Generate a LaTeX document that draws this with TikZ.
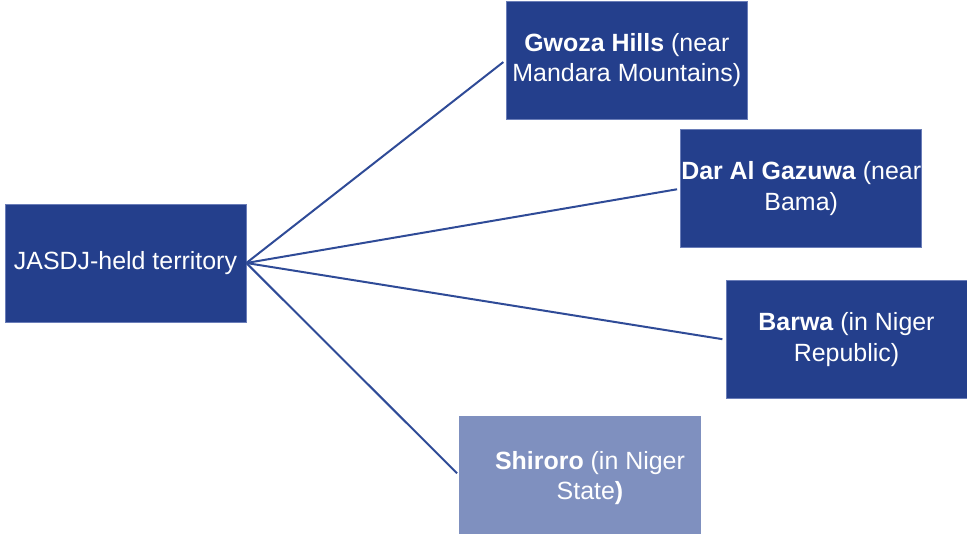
\documentclass[tikz,border=0pt]{standalone}
\usepackage{fontspec}
\setmainfont{Liberation Sans}
\definecolor{boxblue}{HTML}{243F8C}
\definecolor{boxedge}{HTML}{6A7DB8}
\definecolor{lightblue}{HTML}{7F90BF}
\definecolor{linkblue}{HTML}{2F4B97}
\tikzset{
  topic/.style={rectangle, fill=boxblue, draw=boxedge, line width=0.5pt,
    minimum width=241*0.75pt, minimum height=118*0.75pt, inner sep=0pt,
    text=white, align=center, font=\fontsize{18.7}{22.8}\selectfont},
  lighttopic/.style={topic, fill=lightblue, draw=lightblue},
  caption/.style={text=white, align=center, inner sep=0pt, font=\fontsize{18.7}{22.8}\selectfont},
  link/.style={draw=linkblue, line width=1.5pt, shorten >=2.5pt}
}
\begin{document}
\begin{tikzpicture}[x=0.75pt,y=-0.75pt]
\useasboundingbox (0,0) rectangle (967,534);
\node[topic] (root) at (125.5,263) {\raisebox{-2pt}{JASDJ-held territory}};
\node[topic] (gwoza) at (626.8,60) {\textbf{Gwoza Hills} (near\\Mandara Mountains)};
\node[topic] (dar) at (801.2,188.7) {\textbf{Dar Al Gazuwa} (near\\Bama)};
\node[topic] (barwa) at (846.5,339.7) {\textbf{Barwa} (in Niger\\Republic)};
\node[lighttopic] (shiroro) at (580.3,475.7) {};
\node[caption] (shirorotext) at (590,478) {\textbf{Shiroro} (in Niger\\State\textbf{)}};
\draw[link] (root.east) -- (gwoza.west);
\draw[link] (root.east) -- (dar.west);
\draw[link] (root.east) -- (barwa.west);
\draw[link] (root.east) -- (shiroro.west);
\end{tikzpicture}
\end{document}
